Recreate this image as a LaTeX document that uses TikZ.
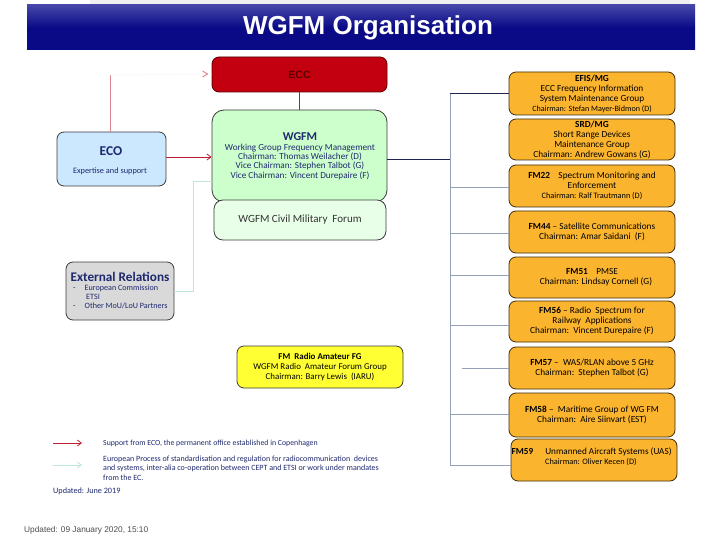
\documentclass[tikz,border=0pt]{standalone}
\usepackage{fontspec}
\setmainfont{Carlito}
\newfontfamily\arialf{Liberation Sans}
\usetikzlibrary{arrows.meta}
\definecolor{navy}{RGB}{10,10,135}
\definecolor{navytop}{RGB}{70,70,170}
\definecolor{eccred}{RGB}{195,0,15}
\definecolor{ecctext}{RGB}{90,0,0}
\definecolor{wgfmgreen}{RGB}{204,255,204}
\definecolor{cmgreen}{RGB}{232,255,232}
\definecolor{ecoblue}{RGB}{204,232,255}
\definecolor{extgrey}{RGB}{217,217,217}
\definecolor{orangebox}{RGB}{251,180,46}
\definecolor{yellowbox}{RGB}{255,255,51}
\definecolor{headnavy}{RGB}{30,40,110}
\definecolor{busline}{RGB}{150,160,185}
\definecolor{darkbus}{RGB}{30,35,80}
\definecolor{supred}{RGB}{190,30,50}
\definecolor{teal}{RGB}{190,230,220}
\definecolor{boxborder}{RGB}{60,60,60}
\tikzset{
  x=1pt,y=-1pt,
  box/.style={draw=boxborder,line width=0.8pt,rounded corners=7pt,inner sep=0pt,align=center},
  obox/.style={box,fill=orangebox,draw=black!75!orangebox,minimum width=166pt},
  txt/.style={inner sep=0pt,align=center,font=\fontsize{8}{10}\selectfont},
  bus/.style={draw=busline,line width=0.9pt},
  supp/.style={draw=supred,line width=0.8pt},
  proc/.style={draw=teal,line width=0.8pt},
}
\begin{document}
\begin{tikzpicture}
\useasboundingbox (0,0) rectangle (720,540);
% top strip and banner
\fill[black!6] (90,0) rectangle (690,5);
\shade[top color=navytop,bottom color=navy,middle color=navy] (27,5) rectangle (695,50);
\node[text=white,font=\arialf\bfseries\fontsize{26}{28}\selectfont] (title) at (368,28) {WGFM Organisation};

% ECC
\node[box,fill=eccred,draw=ecctext,minimum width=175pt,minimum height=35pt,font=\arialf\bfseries\fontsize{10.5}{12}\selectfont,text=ecctext] (ecc) at (299.5,74.5) {ECC};

% WGFM
\node[box,fill=wgfmgreen,rounded corners=12pt,minimum width=175pt,minimum height=92pt] (wgfm) at (299.5,156) {};
\node[box,fill=cmgreen,rounded corners=9pt,minimum width=172pt,minimum height=40pt,font=\fontsize{11}{13}\selectfont,text=black!80] (cmf) at (300,220) {WGFM Civil Military\ \ Forum};
\node[txt,text=headnavy,font=\bfseries\fontsize{12}{14}\selectfont] (wgfmt) at (300,137) {WGFM};
\node[txt,text=headnavy,font=\fontsize{9.2}{9.4}\selectfont,anchor=north] (wgfmd) at (300,143.5) {Working Group Frequency Management\\Chairman: Thomas Weilacher (D)\\Vice Chairman: Stephen Talbot (G)\\Vice Chairman: Vincent Durepaire (F)};

% ECO
\node[box,fill=ecoblue,minimum width=109pt,minimum height=54pt] (eco) at (111.5,159) {};
\node[txt,text=headnavy,font=\bfseries\fontsize{13.5}{15}\selectfont] (ecot) at (111,151) {ECO};
\node[txt,text=headnavy,font=\fontsize{8.3}{10}\selectfont] (ecod) at (110,171) {Expertise and support};

% External relations
\node[box,fill=extgrey,minimum width=108pt,minimum height=58pt] (ext) at (120,291) {};
\node[txt,text=headnavy,font=\bfseries\fontsize{13.2}{14}\selectfont] (extt) at (120,277) {External Relations};
\node[txt,text=headnavy,font=\fontsize{8.1}{9}\selectfont,anchor=north west,align=left] (extd) at (73,284.5) {-\hspace{9pt}European Commission\\\hspace{13pt}ETSI\\-\hspace{9pt}Other MoU/LoU Partners};

% Radio amateur
\node[box,fill=yellowbox,minimum width=166pt,minimum height=42pt,font=\fontsize{8.9}{10.3}\selectfont] (ram) at (320,367) {\textbf{FM\ \ Radio Amateur FG}\\WGFM Radio\ \ Amateur Forum Group\\Chairman: Barry Lewis\ \ (IARU)};

% orange boxes
\begin{scope}[every node/.append style={font=\fontsize{9.3}{10}\selectfont}]
\node[obox,minimum height=43pt] (efis) at (592,93.5) {\textbf{EFIS/MG}\\ECC Frequency Information\\System Maintenance Group\\{\fontsize{8.1}{9}\selectfont Chairman: Stefan Mayer-Bidmon (D)}};
\node[obox,minimum height=41pt] (srd) at (592,139.5) {\textbf{SRD/MG}\\Short Range Devices\\Maintenance Group\\Chairman: Andrew Gowans (G)};
\node[obox,minimum height=42pt] (fm22) at (592,186) {\textbf{FM22}\ \ \ \ Spectrum Monitoring and\\Enforcement\\{\fontsize{8.3}{9.5}\selectfont Chairman: Ralf Trautmann (D)}};
\node[obox,minimum height=42pt] (fm44) at (592,232) {\textbf{FM44} -- Satellite Communications\\Chairman: Amar Saidani\ \ (F)};
\node[obox,minimum height=41pt] (fm51) at (592,277.5) {\textbf{FM51}\ \ \ \ PMSE\\\hspace{8pt}Chairman: Lindsay Cornell (G)};
\node[obox,minimum height=41pt] (fm56) at (592,321.5) {\textbf{FM56} -- Radio\ \ Spectrum for\\Railway\ \ Applications\\Chairman:\ \ Vincent Durepaire (F)};
\node[obox,minimum height=42pt] (fm57) at (592,368) {\textbf{FM57} --\ \ WAS/RLAN above 5 GHz\\Chairman:\ \ Stephen Talbot (G)};
\node[obox,minimum height=44pt] (fm58) at (592,415) {\textbf{FM58} --\ \ Maritime Group of WG FM\\Chairman:\ \ Aire Siinvart (EST)};
\node[obox,minimum width=166pt,minimum height=42pt] (fm59) at (594,460) {};
\node[txt,anchor=west,font=\fontsize{9.2}{10}\selectfont] (fm59a) at (511.5,452) {\textbf{FM59}\hspace{12pt}Unmanned Aircraft Systems (UAS)};
\node[txt,anchor=west,font=\fontsize{8.3}{9}\selectfont] (fm59b) at (545,462.5) {Chairman: Oliver Kecen (D)};
\end{scope}

% connectors
\draw[line width=0.8pt,draw=black!70] (ecc.south) -- (wgfm.north);
\coordinate (bt) at (450,93);
\coordinate (bb) at (450,465);
\draw[bus] (bt) -- (bb);
\draw[line width=0.9pt,draw=darkbus] (wgfm.east |- 0,159) -- (450,159);
\draw[line width=0.9pt,draw=darkbus] (bt) -- (efis.west |- bt);
\foreach \n/\y in {fm22/187,fm44/233,fm51/275,fm56/325,fm58/414,fm59/465}{
  \draw[bus] (450,\y) -- (\n.west |- 0,\y);
}
\coordinate (s57) at (462,368);
\draw[bus] (s57) -- (fm57.west |- s57);

% red support arrows
\coordinate (r1) at (110,75);
\draw[draw=supred!55,line width=0.8pt] (eco.north -| r1) -- (r1);
\draw[draw=supred!4,line width=0.8pt] (r1) -- (ecc.west |- 0,74);
\draw[supp,-{Straight Barb[length=4pt,width=6pt]}] (eco.east |- 0,157) -- (wgfm.west |- 0,157);
\draw[supred!60,line width=0.8pt] (ecc.west |- 0,74) ++(-9,-3) -- ++(5,3) -- ++(-5,3);

% teal process connector
\coordinate (t1) at (193,181);
\draw[proc] (ext.east |- 0,291) -| (t1) -- (wgfm.west |- t1);

% legend
\coordinate (la1) at (53,443);
\coordinate (la2) at (82,443);
\draw[supp,-{Straight Barb[length=4pt,width=6pt]}] (la1) -- (la2);
\coordinate (lb1) at (53,465);
\coordinate (lb2) at (82,465);
\draw[proc,-{Straight Barb[length=4pt,width=6pt]}] (lb1) -- (lb2);
\node[txt,anchor=west,text=headnavy,font=\fontsize{7.8}{9}\selectfont] (leg1) at (103,443) {Support from ECO, the permanent office established in Copenhagen};
\node[txt,anchor=north west,align=left,text=headnavy,font=\fontsize{8}{9.5}\selectfont] (leg2) at (103,455.5) {European Process of standardisation and regulation for radiocommunication\ \ devices\\and systems, inter-alia co-operation between CEPT and ETSI or work under mandates\\from the EC.};
\node[txt,anchor=west,text=headnavy,font=\fontsize{8.2}{9}\selectfont] (upd1) at (53,491) {Updated: June 2019};
\node[txt,anchor=west,text=black!70,font=\arialf\fontsize{8.3}{9}\selectfont] (upd2) at (24,530) {Updated: 09 January 2020, 15:10};
\end{tikzpicture}
\end{document}
